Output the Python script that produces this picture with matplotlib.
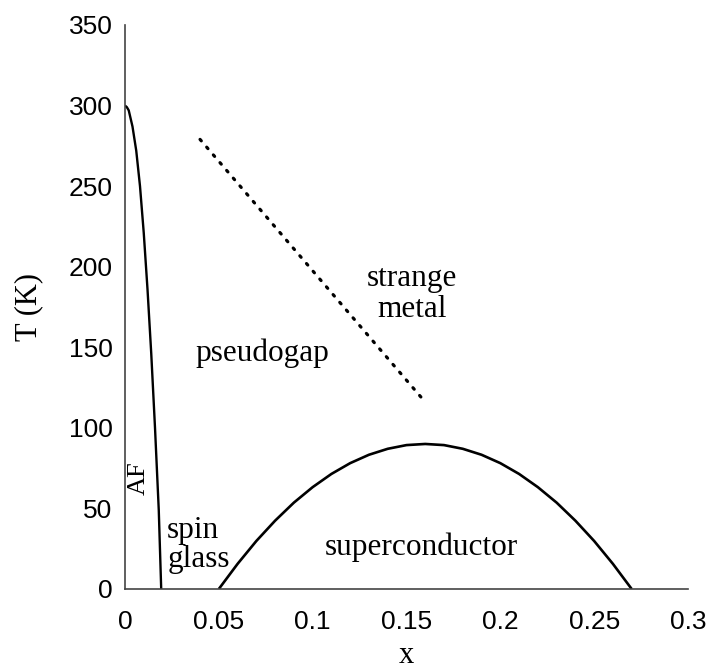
import numpy as np
import matplotlib.pyplot as plt

# AF boundary (x, T)
af_x = [0.0, 0.001, 0.002, 0.004, 0.006, 0.008, 0.010, 0.012, 0.014, 0.016, 0.018, 0.0193]
af_T = [300, 299, 297, 287, 272, 250, 221, 186, 146, 100, 49, 0]

# superconducting dome
sc_x = [0.05, 0.06, 0.07, 0.08, 0.09, 0.10, 0.11, 0.12, 0.13, 0.14, 0.15, 0.16,
        0.17, 0.18, 0.19, 0.20, 0.21, 0.22, 0.23, 0.24, 0.25, 0.26, 0.27]
sc_T = [0, 15.6, 29.8, 42.4, 53.6, 63.2, 71.4, 78.1, 83.3, 87.0, 89.3, 90,
        89.3, 87.0, 83.3, 78.1, 71.4, 63.2, 53.6, 42.4, 29.8, 15.6, 0]

# pseudogap crossover (dotted)
pg_x = [0.040, 0.160]
pg_T = [279, 116]

xticks = [0, 0.05, 0.1, 0.15, 0.2, 0.25, 0.3]
xlabels = ["0", "0.05", "0.1", "0.15", "0.2", "0.25", "0.3"]
yticks = [0, 50, 100, 150, 200, 250, 300, 350]

fig = plt.figure(figsize=(7.15, 6.7), dpi=100)
ax = fig.add_axes([0.1748, 0.1209, 0.7874, 0.8418])

ax.plot(af_x, af_T, color="black", lw=1.7, solid_capstyle="butt")
ax.plot(sc_x, sc_T, color="black", lw=1.9, solid_capstyle="butt")
ax.plot(pg_x, pg_T, color="black", lw=2.3, linestyle=(0, (0.6, 2.6)),
        dash_capstyle="round")

ax.set_xlim(0, 0.3)
ax.set_ylim(0, 350)
ax.set_xticks(xticks)
ax.set_xticklabels(xlabels)
ax.set_yticks(yticks)

for s in ["top", "right"]:
    ax.spines[s].set_visible(False)
for s in ["left", "bottom"]:
    ax.spines[s].set_color("#444444")
    ax.spines[s].set_linewidth(1.2)

ax.tick_params(length=0, labelsize=19)
ax.tick_params(axis="x", pad=15)
ax.tick_params(axis="y", pad=9)
for lab in ax.get_xticklabels() + ax.get_yticklabels():
    lab.set_fontfamily("Liberation Sans")

serif = "Liberation Serif"
ax.set_xlabel("x", fontsize=22, family=serif, labelpad=5)
ax.set_ylabel("T (K)", fontsize=22, family=serif, labelpad=18)

ax.text(0.073, 146, "pseudogap", fontsize=22.5, family=serif, ha="center", va="center")
ax.text(0.153, 183, "strange\nmetal", fontsize=22.5, family=serif, ha="center",
        va="center", linespacing=1.1)
ax.text(0.0075, 69, "AF", fontsize=19, family=serif, rotation=90,
        ha="center", va="center")
ax.text(0.0225, 27, "spin\nglass", fontsize=22.5, family=serif, ha="left",
        va="center", linespacing=1.0)
ax.text(0.158, 26, "superconductor", fontsize=22.5, family=serif, ha="center",
        va="center")

fig.savefig("out.png", dpi=100)
